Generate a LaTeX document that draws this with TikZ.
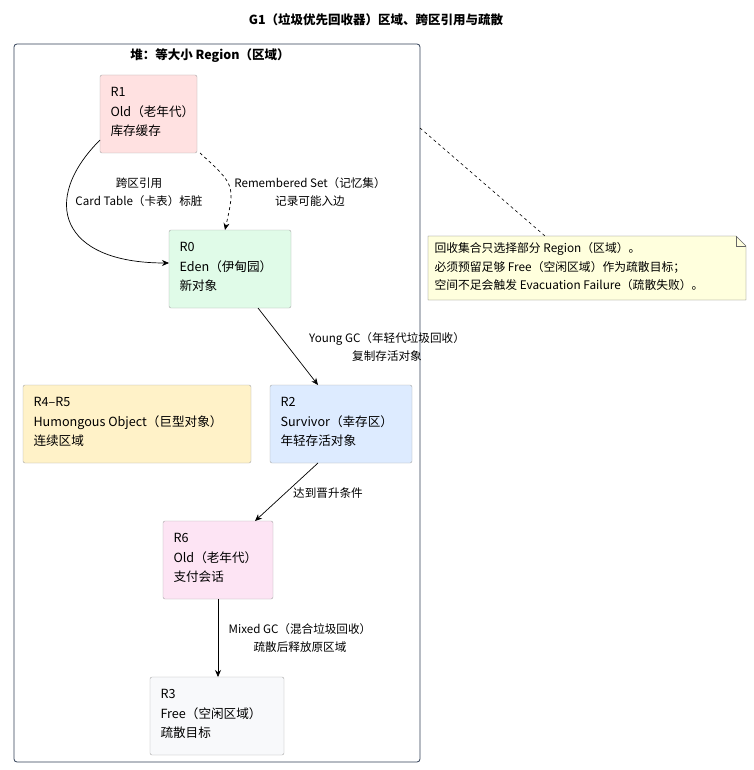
\documentclass[tikz,border=0pt]{standalone}
\usepackage{fontspec}
\setmainfont{Noto Sans CJK SC}
\usetikzlibrary{arrows.meta}
\definecolor{bd}{HTML}{2F3E55}
\begin{document}
\begin{tikzpicture}[x=1pt,y=-1pt,
  every node/.style={font=\fontsize{12.6}{19.5}\selectfont},
  lab/.style={align=center,font=\fontsize{11.6}{18}\selectfont},
  rb/.style={draw=gray!70,rounded corners=2pt},
  arr/.style={-{Stealth[length=7pt,width=6pt]},line width=0.7pt}]
\useasboundingbox (0,0) rectangle (753,770);
\node[font=\bfseries\fontsize{12.5}{14}\selectfont] (title) at (376,20) {G1（垃圾优先回收器）区域、跨区引用与疏散};
\draw[bd,rounded corners=3pt,line width=0.8pt] (14,44) rectangle (420,762);
\coordinate (cl) at (420,128);
\node[font=\bfseries\fontsize{12.5}{14}\selectfont] (heap) at (210,56) {堆：等大小 Region（区域）};
\filldraw[rb,fill={rgb,255:red,255;green,225;blue,225}] (100,75) rectangle (197,153);
\node[anchor=north west,align=left] (R1) at (107,84) {R1\\Old（老年代）\\库存缓存};
\filldraw[rb,fill={rgb,255:red,224;green,251;blue,232}] (169,230) rectangle (291,308);
\node[anchor=north west,align=left] (R0) at (176,239) {R0\\Eden（伊甸园）\\新对象};
\filldraw[rb,fill={rgb,255:red,221;green,235;blue,255}] (270,385) rectangle (412,463);
\node[anchor=north west,align=left] (R2) at (277,394) {R2\\Survivor（幸存区）\\年轻存活对象};
\filldraw[rb,fill={rgb,255:red,255;green,242;blue,200}] (23,385) rectangle (251,463);
\node[anchor=north west,align=left] (R45) at (30,394) {R4–R5\\Humongous Object（巨型对象）\\连续区域};
\filldraw[rb,fill={rgb,255:red,253;green,228;blue,244}] (163,521) rectangle (273,599);
\node[anchor=north west,align=left] (R6) at (170,530) {R6\\Old（老年代）\\支付会话};
\filldraw[rb,fill={rgb,255:red,248;green,249;blue,251}] (150,677) rectangle (284,755);
\node[anchor=north west,align=left] (R3) at (157,686) {R3\\Free（空闲区域）\\疏散目标};
% note
\filldraw[draw=gray!80!black,fill={rgb,255:red,255;green,255;blue,221}] (428,236) -- (736,236) -- (746,246) -- (746,300) -- (428,300) -- cycle;
\draw[gray!80!black] (736,236) -- (736,246) -- (746,246);
\node[anchor=north west,align=left,font=\fontsize{11.8}{18.5}\selectfont] (note) at (431,239) {回收集合只选择部分 Region（区域）。\\必须预留足够 Free（空闲区域）作为疏散目标；\\空间不足会触发 Evacuation Failure（疏散失败）。};
\coordinate (nt) at (545,236);
\draw[dashed,line width=0.6pt] (cl) -- (nt);
% edges
\coordinate (a1) at (100,140); \coordinate (a2) at (169,263);
\draw[arr] (a1) .. controls (40,200) and (60,263) .. (a2);
\node[lab] (l1) at (139,192) {跨区引用\\Card Table（卡表）标脏};
\coordinate (b1) at (200,153); \coordinate (b2) at (225,230);
\draw[arr,dashed] (b1) .. controls (235,185) .. (b2);
\node[lab] (l2) at (310,192) {Remembered Set（记忆集）\\记录可能入边};
\coordinate (c1) at (258,308); \coordinate (c2) at (318,385);
\draw[arr] (c1) -- (c2);
\node[lab] (l3) at (387,347) {Young GC（年轻代垃圾回收）\\复制存活对象};
\coordinate (d1) at (318,463); \coordinate (d2) at (255,521);
\draw[arr] (d1) -- (d2);
\node[lab] (l4) at (328,493) {达到晋升条件};
\coordinate (e1) at (218,599); \coordinate (e2) at (218,677);
\draw[arr] (e1) -- (e2);
\node[lab] (l5) at (300,638) {Mixed GC（混合垃圾回收）\\疏散后释放原区域};
\end{tikzpicture}
\end{document}
